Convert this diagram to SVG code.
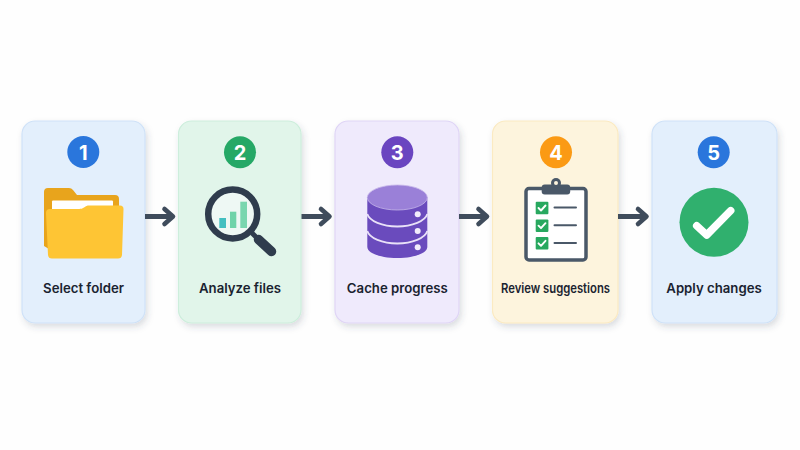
<svg xmlns="http://www.w3.org/2000/svg" width="800" height="450" viewBox="0 0 800 450">
<style>
.card{stroke-width:1.2;filter:url(#sh)}
.num{font:700 20px Inter,"Liberation Sans",sans-serif;fill:#fff;text-anchor:middle}
.lbl{font:600 13.2px Inter,"Liberation Sans",sans-serif;fill:#1a2330;text-anchor:middle}
.arrow{fill:none;stroke:#3f4c5c;stroke-width:5;stroke-linejoin:round}
.head{fill:none;stroke:#3f4c5c;stroke-width:4.600;stroke-linecap:round;stroke-linejoin:round}
.tick{fill:none;stroke:#fff;stroke-width:1.900;stroke-linecap:round;stroke-linejoin:round}
.ln{stroke:#4a5868;stroke-width:2;stroke-linecap:round}
.band{fill:none;stroke:#e9e1f8;stroke-width:1.800}
</style>
<defs>
<filter id="sh" x="-15%" y="-10%" width="130%" height="120%"><feDropShadow dx="2" dy="3.500" stdDeviation="3" flood-color="#3f4c5c" flood-opacity=".18"/></filter>
</defs>
<rect width="800" height="450" fill="#fefefe"/>
<g id="node-1">
<rect class="card" x="22" y="121" width="123" height="202" rx="13" fill="#e3effc" stroke="#cfe2f8"/>
<circle cx="83.300" cy="152" r="16" fill="#2a76dc"/>
<text class="num" x="83.300" y="159.500">1</text>
<path d="M44 192a4 4 0 0 1 4-4h21a5 5 0 0 1 4 2l4 5h38a4 4 0 0 1 4 4v30H48l1 20-5-3z" fill="#e8a41c"/>
<rect x="52" y="200.500" width="61" height="20" rx="1" fill="#fff"/>
<path d="M46 213a4 4 0 0 1 4-4h28c4 0 5-1 7-2 1-1 2-1.500 4-1.500h31a3.500 3.500 0 0 1 3.500 3.500l-1.500 46a4 4 0 0 1-4 3.500H52a4 4 0 0 1-4-3.500z" fill="#fec534"/>
<text class="lbl" x="83.500" y="292.500">Select folder</text>
</g>
<g id="node-2">
<rect class="card" x="178.500" y="121" width="122.500" height="202" rx="13" fill="#e1f5ea" stroke="#cdeedc"/>
<circle cx="240" cy="152.300" r="16" fill="#25a866"/>
<text class="num" x="240" y="159.500">2</text>
<circle cx="232.700" cy="214" r="24.500" fill="#eef8f4" stroke="#2f3c4d" stroke-width="6.500"/>
<rect x="219.300" y="218" width="6.700" height="10" fill="#43bfc0"/>
<rect x="230" y="211.700" width="6.300" height="16.300" fill="#6fd3a9"/>
<rect x="240.300" y="201.700" width="6.700" height="26.300" fill="#79d6af"/>
<path d="M252 233l6 6" stroke="#2f3c4d" stroke-width="5" fill="none"/>
<path d="M258.500 239.500l13 12" stroke="#2f3c4d" stroke-width="9.500" stroke-linecap="round" fill="none"/>
<text class="lbl" x="240" y="292.500">Analyze files</text>
</g>
<g id="node-3">
<rect class="card" x="335" y="121" width="124" height="202" rx="13" fill="#efeafc" stroke="#dfd5f6"/>
<circle cx="397.300" cy="152.300" r="16" fill="#6a45c0"/>
<text class="num" x="397.300" y="159.500">3</text>
<path d="M367.300 197v50c0 6 13 11 30 11s30-5 30-11v-50z" fill="#6a4bbd"/>
<path class="band" d="M367.300 214c2 7 15 12.500 30 12.500s28-5.500 30-12.500"/>
<path class="band" d="M367.300 231c2 7 15 12.500 30 12.500s28-5.500 30-12.500"/>
<ellipse cx="397.300" cy="197.500" rx="30" ry="12.500" fill="#9a80d8" stroke="#c6b6ea" stroke-width=".8"/>
<circle cx="417.700" cy="214.300" r="3" fill="#f2edfb"/>
<circle cx="417.700" cy="231" r="3" fill="#f2edfb"/>
<circle cx="417.700" cy="247.300" r="3" fill="#f2edfb"/>
<text class="lbl" x="397.300" y="292.500">Cache progress</text>
</g>
<g id="node-4">
<rect class="card" x="492.500" y="121" width="125.500" height="202" rx="13" fill="#fdf4dd" stroke="#fbeac2"/>
<circle cx="556" cy="152.300" r="16" fill="#fb9a14"/>
<text class="num" x="556" y="159.500">4</text>
<rect x="526" y="188.500" width="60" height="71.500" rx="3" fill="#fff" stroke="#4a5868" stroke-width="3.500"/>
<rect x="541.700" y="184.500" width="28.500" height="10" rx="3" fill="#4a5868"/>
<circle cx="556" cy="183" r="5" fill="#4a5868"/>
<circle cx="556" cy="183" r="2" fill="#fdf4dd"/>
<rect x="535.700" y="201.700" width="12.700" height="12.500" rx="1" fill="#28a85f"/>
<rect x="535.700" y="219.400" width="12.700" height="12.500" rx="1" fill="#28a85f"/>
<rect x="535.700" y="237" width="12.700" height="12.500" rx="1" fill="#28a85f"/>
<path class="tick" d="M538.500 208l2.500 2.500 4.500-5"/>
<path class="tick" d="M538.500 225.700l2.500 2.500 4.500-5"/>
<path class="tick" d="M538.500 243.300l2.500 2.500 4.500-5"/>
<path class="ln" d="M554.500 207.500h21.500M554.500 225.300h21.500M554.500 243h21.500"/>
<text class="lbl" x="555.500" y="292.500" textLength="109" lengthAdjust="spacingAndGlyphs">Review suggestions</text>
</g>
<g id="node-5">
<rect class="card" x="652" y="121" width="125" height="202" rx="13" fill="#e3effc" stroke="#cfe2f8"/>
<circle cx="713.700" cy="152.300" r="16" fill="#2a76dc"/>
<text class="num" x="713.700" y="159.500">5</text>
<circle cx="714" cy="222.300" r="34.500" fill="#30b06e"/>
<path d="M696.700 225.700l10 9.300 24-24.300" fill="none" stroke="#fff" stroke-width="7.500" stroke-linecap="round" stroke-linejoin="round"/>
<text class="lbl" x="714" y="292.500">Apply changes</text>
</g>
<g id="connectors">
<path class="arrow" d="M145 216.500h28"/><path class="head" d="M164.500 209l8.500 7.500-8.500 7.500"/>
<path class="arrow" d="M301.500 216.500h27"/><path class="head" d="M321 209l8.500 7.500-8.500 7.500"/>
<path class="arrow" d="M459 216.500h27"/><path class="head" d="M478.500 209l8.500 7.500-8.500 7.500"/>
<path class="arrow" d="M618 216.500h28"/><path class="head" d="M638 209l8.500 7.500-8.500 7.500"/>
</g>
</svg>
